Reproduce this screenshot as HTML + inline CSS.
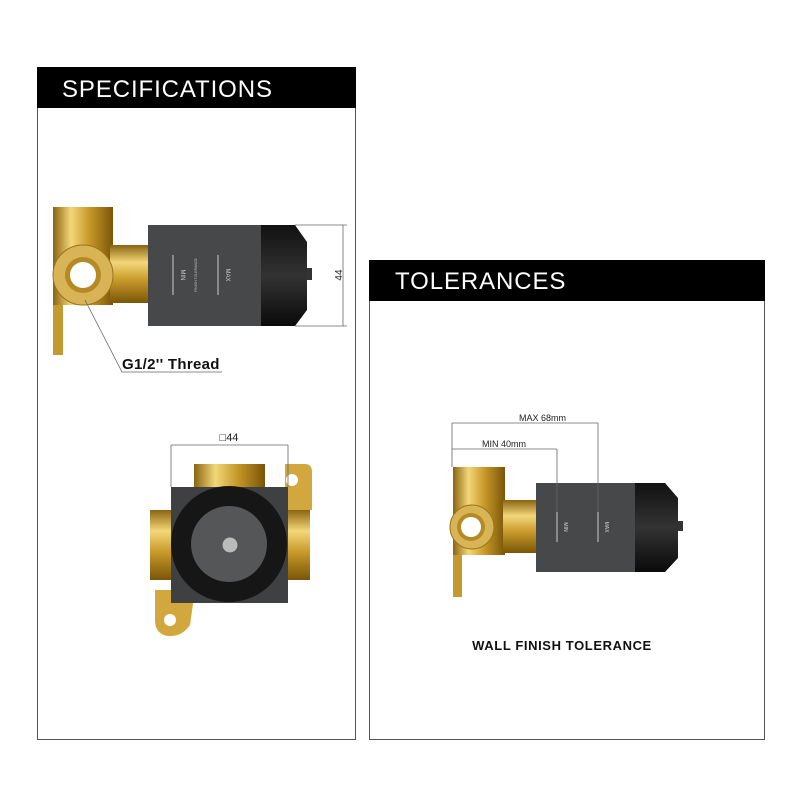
<!DOCTYPE html>
<html><head><meta charset="utf-8"><style>body{margin:0;background:#fff}svg{display:block}</style></head><body>
<svg width="800" height="800" viewBox="0 0 800 800" xmlns="http://www.w3.org/2000/svg" font-family="Liberation Sans, sans-serif">
<defs>
<linearGradient id="bv" x1="0" x2="1" y1="0" y2="0"><stop offset="0" stop-color="#8a6410"/><stop offset=".3" stop-color="#f3d77a"/><stop offset=".6" stop-color="#c89a2a"/><stop offset="1" stop-color="#7a5508"/></linearGradient>
<linearGradient id="bh" x1="0" x2="0" y1="0" y2="1"><stop offset="0" stop-color="#8a6410"/><stop offset=".3" stop-color="#f3d77a"/><stop offset=".6" stop-color="#c89a2a"/><stop offset="1" stop-color="#7a5508"/></linearGradient>
<linearGradient id="cap" x1="0" x2="0" y1="0" y2="1"><stop offset="0" stop-color="#111"/><stop offset=".5" stop-color="#333"/><stop offset="1" stop-color="#0a0a0a"/></linearGradient>
</defs>
<rect x="37.5" y="67.5" width="318" height="672" fill="none" stroke="#555" stroke-width="1"/>
<rect x="37" y="67" width="319" height="41" fill="#000"/>
<text x="62" y="97" fill="#fff" font-size="24" letter-spacing="0.9">SPECIFICATIONS</text>
<rect x="369.5" y="260.5" width="395" height="479" fill="none" stroke="#555" stroke-width="1"/>
<rect x="369" y="260" width="396" height="41" fill="#000"/>
<text x="395" y="289" fill="#fff" font-size="24" letter-spacing="0.9">TOLERANCES</text>

<rect x="53" y="300" width="10" height="55" fill="#c49a30"/>
<rect x="53" y="207" width="60" height="98" fill="url(#bv)"/>
<rect x="110" y="245" width="40" height="58" fill="url(#bh)"/>
<circle cx="83" cy="275" r="30" fill="#d9b456" stroke="#9a7418"/>
<circle cx="83" cy="275" r="18" fill="#b58a24"/>
<circle cx="83" cy="275" r="13" fill="#fff"/>
<rect x="148" y="225" width="113" height="101" fill="#47484a"/>
<path d="M261 225 H295 L307 242 V310 L295 326 H261 Z" fill="url(#cap)"/>
<rect x="307" y="268" width="5" height="12" fill="#333"/>
<line x1="173" y1="255" x2="173" y2="295" stroke="#ccc"/>
<line x1="218" y1="255" x2="218" y2="295" stroke="#ccc"/>
<text transform="translate(181,275) rotate(90)" fill="#ccc" font-size="6" text-anchor="middle">MIN</text>
<text transform="translate(226,275) rotate(90)" fill="#ccc" font-size="6" text-anchor="middle">MAX</text>
<text transform="translate(197,275) rotate(-90)" fill="#bbb" font-size="3.5" text-anchor="middle">FINISH TOLERANCE</text>
<g stroke="#666" stroke-width="0.8" fill="none">
<line x1="295" y1="225" x2="347" y2="225"/><line x1="295" y1="326" x2="347" y2="326"/>
<line x1="343" y1="225" x2="343" y2="326"/>
<polyline points="85,300 122,372 222,372"/>
</g>
<text transform="translate(342,275) rotate(-90)" font-size="10" text-anchor="middle" fill="#222">44</text>
<text x="122" y="369" font-size="15" font-weight="bold" fill="#111" letter-spacing="0.3">G1/2'' Thread</text>

<path d="M285 464 H305 Q312 464 312 472 V510 H285 Z" fill="#d2a83e"/>
<circle cx="292" cy="480" r="6" fill="#fff"/>
<path d="M155 590 H195 L190 625 Q182 637 168 636 Q155 634 155 620 Z" fill="#d2a83e"/>
<circle cx="170" cy="620" r="6" fill="#fff"/>
<rect x="194" y="464" width="71" height="25" fill="url(#bv)"/>
<rect x="150" y="510" width="22" height="70" fill="url(#bh)"/>
<rect x="287" y="510" width="23" height="70" fill="url(#bh)"/>
<rect x="171" y="487" width="117" height="116" fill="#3f4042"/>
<circle cx="229" cy="544" r="58" fill="#161616"/>
<circle cx="229" cy="544" r="38" fill="#555658"/>
<circle cx="230" cy="545" r="8" fill="#bbb" stroke="#555"/>
<g stroke="#666" stroke-width="0.8"><line x1="171" y1="445" x2="288" y2="445"/><line x1="171" y1="445" x2="171" y2="487"/><line x1="288" y1="445" x2="288" y2="487"/></g>
<text x="229" y="441" font-size="11" text-anchor="middle" fill="#222">□44</text>

<rect x="453" y="550" width="9" height="47" fill="#c49a30"/>
<rect x="453" y="467" width="52" height="88" fill="url(#bv)"/>
<rect x="503" y="500" width="35" height="53" fill="url(#bh)"/>
<circle cx="472" cy="527" r="22" fill="#d9b456" stroke="#9a7418"/>
<circle cx="471" cy="527" r="14" fill="#b58a24"/>
<circle cx="471" cy="527" r="10" fill="#fff"/>
<rect x="536" y="483" width="99" height="89" fill="#47484a"/>
<path d="M635 483 H665 L678 498 V558 L665 572 H635 Z" fill="url(#cap)"/>
<rect x="678" y="521" width="5" height="10" fill="#333"/>
<line x1="557" y1="512" x2="557" y2="542" stroke="#ccc"/>
<line x1="598" y1="512" x2="598" y2="542" stroke="#ccc"/>
<text transform="translate(564,527) rotate(90)" fill="#ccc" font-size="5" text-anchor="middle">MIN</text>
<text transform="translate(605,527) rotate(90)" fill="#ccc" font-size="5" text-anchor="middle">MAX</text>
<g stroke="#666" stroke-width="0.8">
<line x1="452" y1="423" x2="598" y2="423"/><line x1="452" y1="449" x2="557" y2="449"/>
<line x1="452" y1="423" x2="452" y2="467"/>
<line x1="557" y1="449" x2="557" y2="512"/><line x1="598" y1="423" x2="598" y2="512"/>
</g>
<text x="519" y="421" font-size="9" fill="#222">MAX 68mm</text>
<text x="482" y="447" font-size="9" fill="#222">MIN 40mm</text>
<text x="562" y="650" font-size="13" font-weight="bold" text-anchor="middle" fill="#111" letter-spacing="0.6">WALL FINISH TOLERANCE</text>
</svg>
</body></html>
